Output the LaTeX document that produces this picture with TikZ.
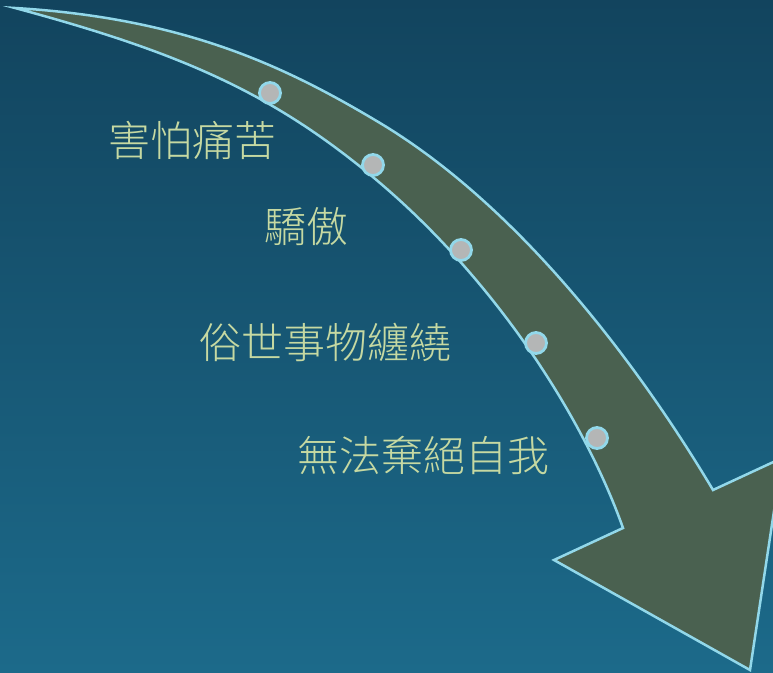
\documentclass[tikz,border=0pt]{standalone}
\usepackage{fontspec}
\newfontfamily\cjk{Noto Sans CJK TC Light}
\definecolor{bgtop}{HTML}{12445E}
\definecolor{bgbot}{HTML}{1C6A8A}
\definecolor{arrowfill}{HTML}{4A6150}
\definecolor{edgecol}{HTML}{92D8EA}
\definecolor{dotfill}{HTML}{B4B6B6}
\definecolor{txt}{HTML}{C6D9A2}
\begin{document}
\begin{tikzpicture}[x=1pt,y=-1pt,
  dotnode/.style={circle, fill=dotfill, draw=edgecol, line width=2.8pt, minimum size=21pt, inner sep=0pt},
  lbl/.style={text=txt, font=\cjk\fontsize{42}{42}\selectfont, inner sep=0pt},
  bigarrow/.style={fill=arrowfill, draw=edgecol, line width=2.5pt, line join=miter}]
\useasboundingbox (0,0) rectangle (773,672);
\clip (0,0) rectangle (773,672);
\shade[top color=bgtop, bottom color=bgbot] (0,0) rectangle (773,672);
\draw[bigarrow]
  (15,8) .. controls (185,18.2) and (285.7,66.5) .. (380,123)
  .. controls (542.8,220.7) and (667,412.6) .. (713,490)
  -- (782,458) -- (750,670) -- (554,560) -- (623,528)
  .. controls (582.7,415) and (494.3,280.2) .. (380,183)
  .. controls (273.3,92.3) and (179,52.2) .. (15,8)
  -- cycle;
\node[dotnode] (d1) at (270,93) {};
\node[dotnode] (d2) at (373,165) {};
\node[dotnode] (d3) at (461,250) {};
\node[dotnode] (d4) at (536,343) {};
\node[dotnode] (d5) at (597,438) {};
\node[lbl] (t1) at (192,140) {害怕痛苦};
\node[lbl] (t2) at (306,227) {驕傲};
\node[lbl] (t3) at (325,342) {俗世事物纏繞};
\node[lbl] (t4) at (423,455) {無法棄絕自我};
\end{tikzpicture}
\end{document}
